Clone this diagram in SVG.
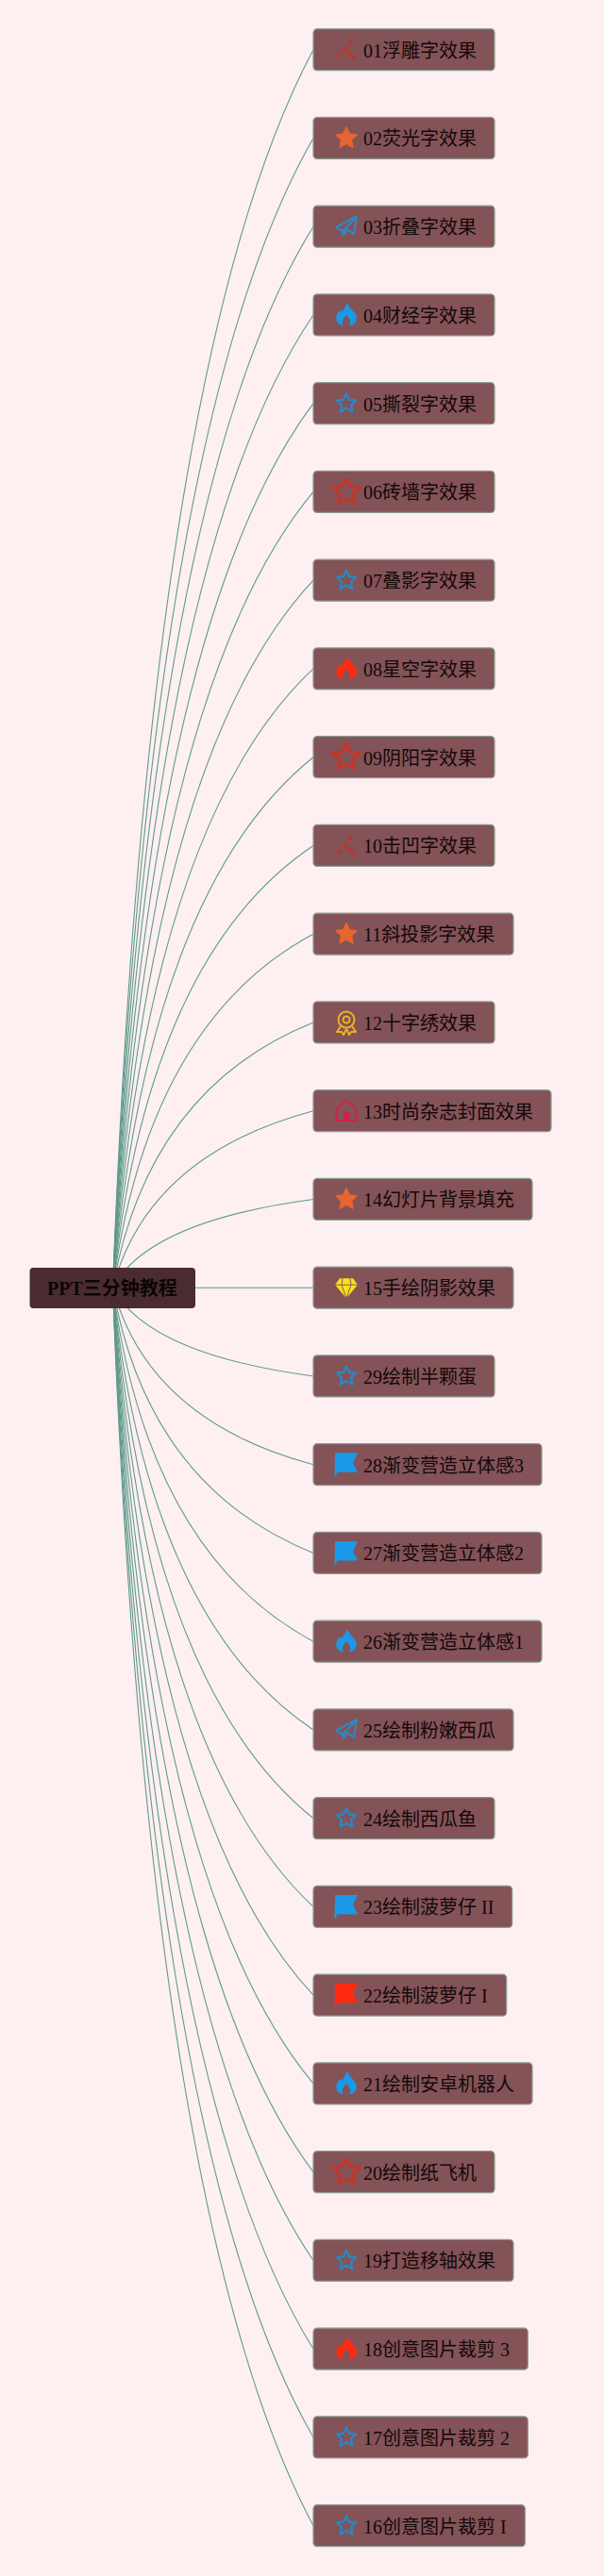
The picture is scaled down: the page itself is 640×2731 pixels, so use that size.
<svg xmlns="http://www.w3.org/2000/svg" width="640" height="2731" viewBox="0 0 640 2731">
<style>
.box{fill:#835358;stroke:#8b9a92;stroke-width:1.2}
.t{font-family:"Liberation Serif","Noto Sans CJK SC",serif;font-size:20px;fill:#140808}
.root{fill:#4a2c30;stroke:none}
.rt{font-family:"Liberation Serif","Noto Sans CJK SC",serif;font-size:20px;font-weight:bold;fill:#0c0505}
#links path{fill:none;stroke:#5f9a8c;stroke-width:1.1}
</style>
<defs>
<g id="magic" fill="#cf2f1f"><path d="M-4,-3 L9,10" stroke="#cf2f1f" stroke-width="2.6" fill="none"/><path d="M4.7,-10.5 L7.4,-8 L4.7,-5.3 L2,-8Z"/><path d="M-7.7,3.6 L-5,6.3 L-7.7,9 L-10.4,6.3Z"/></g>
<path id="sf" fill="#e8652f" stroke="#e8652f" stroke-width="1.5" stroke-linejoin="round" d="M0,-11.5 L3.3,-4.4 10.8,-3.5 5.4,1.7 6.8,9.6 0,5.7 -6.8,9.6 -5.4,1.7 -10.8,-3.5 -3.3,-4.4Z"/>
<path id="sb" fill="none" stroke="#2a87c4" stroke-width="2.3" stroke-linejoin="round" d="M0,-10.5 L3,-4 10,-3.2 5,1.6 6.3,8.9 0,5.3 -6.3,8.9 -5,1.6 -10,-3.2 -3,-4Z"/>
<path id="sr" fill="none" stroke="#d42f1f" stroke-width="2.4" stroke-linejoin="round" d="M0,-14.5 L4.2,-5.6 14,-4.4 6.9,2.2 8.7,12.3 0,7.3 -8.7,12.3 -6.9,2.2 -14,-4.4 -4.2,-5.6Z"/>
<path id="fb" fill="#1a9ae6" d="M1,-13 C3,-8 6,-6 9,-2 C13,3 10,11 3,11 C6,7 3,3 0,0 C-3,3 -6,7 -3,11 C-10,11 -13,3 -9,-2 C-8,-4 -6,-6 -5,-3 C-3,-6 -1,-9 1,-13Z"/>
<path id="fr" fill="#ff2a10" d="M1,-13 C3,-8 6,-6 9,-2 C13,3 10,11 3,11 C6,7 3,3 0,0 C-3,3 -6,7 -3,11 C-10,11 -13,3 -9,-2 C-8,-4 -6,-6 -5,-3 C-3,-6 -1,-9 1,-13Z"/>
<path id="plane" fill="none" stroke="#2a8ac8" stroke-width="2" stroke-linejoin="round" d="M11,-11 L-11,1 L-4,5 L11,-11 L8,8 L1,3 L-3,9 L-4,5"/>
<path id="flagb" fill="#1a9ae6" d="M-12,-12.5 H12 L7,-2 L12,8 H-10 L-11,12.5 H-12.5Z"/>
<path id="flagr" fill="#ff2a10" d="M-12,-12.5 H12 L7,-2 L12,8 H-10 L-11,12.5 H-12.5Z"/>
<g id="medal" fill="none" stroke="#f0b020" stroke-width="2"><circle cx="0" cy="-3" r="8.5"/><circle cx="0" cy="-3" r="3.5"/><path d="M-6,4 L-10,10 -5,10 -3,13 0,7 3,13 5,10 10,10 6,4" stroke-linejoin="round"/></g>
<g id="home"><path d="M0,-11 L10.5,-2 V10 H-10.5 V-2Z" fill="none" stroke="#d02050" stroke-width="2" stroke-linejoin="round"/><rect x="-3" y="1" width="6" height="9" fill="#d02050"/></g>
<g id="gem"><path d="M-7,-10 H7 L12,-3 L0,11 L-12,-3Z" fill="#f8e020"/><path d="M-12,-3 H12 M-4,-10 L-5,-3 L0,11 L5,-3 L4,-10" fill="none" stroke="#8a5a50" stroke-width="1"/></g>
</defs>
<rect width="640" height="2731" fill="#fef0f1"/>
<g id="links">
<path d="M119.5,1365.2 Q157,380.8 332,52.7"/>
<path d="M119.5,1365.2 Q157,451.1 332,146.45"/>
<path d="M119.5,1365.2 Q157,521.4 332,240.2"/>
<path d="M119.5,1365.2 Q157,591.7 332,333.95"/>
<path d="M119.5,1365.2 Q157,662 332,427.7"/>
<path d="M119.5,1365.2 Q157,732.4 332,521.45"/>
<path d="M119.5,1365.2 Q157,802.7 332,615.2"/>
<path d="M119.5,1365.2 Q157,873 332,708.95"/>
<path d="M119.5,1365.2 Q157,943.3 332,802.7"/>
<path d="M119.5,1365.2 Q157,1013.6 332,896.45"/>
<path d="M119.5,1365.2 Q157,1083.9 332,990.2"/>
<path d="M119.5,1365.2 Q157,1154.3 332,1083.95"/>
<path d="M119.5,1365.2 Q157,1224.6 332,1177.7"/>
<path d="M119.5,1365.2 Q157,1294.9 332,1271.45"/>
<path d="M119.5,1365.2 L332,1365.2"/>
<path d="M119.5,1365.2 Q157,1435.5 332,1458.95"/>
<path d="M119.5,1365.2 Q157,1505.8 332,1552.7"/>
<path d="M119.5,1365.2 Q157,1576.1 332,1646.45"/>
<path d="M119.5,1365.2 Q157,1646.5 332,1740.2"/>
<path d="M119.5,1365.2 Q157,1716.8 332,1833.95"/>
<path d="M119.5,1365.2 Q157,1787.1 332,1927.7"/>
<path d="M119.5,1365.2 Q157,1857.4 332,2021.45"/>
<path d="M119.5,1365.2 Q157,1927.7 332,2115.2"/>
<path d="M119.5,1365.2 Q157,1998 332,2208.95"/>
<path d="M119.5,1365.2 Q157,2068.3 332,2302.7"/>
<path d="M119.5,1365.2 Q157,2138.7 332,2396.45"/>
<path d="M119.5,1365.2 Q157,2209 332,2490.2"/>
<path d="M119.5,1365.2 Q157,2279.3 332,2583.95"/>
<path d="M119.5,1365.2 Q157,2349.6 332,2677.7"/>
</g>
<g id="root"><rect class="root" x="31.5" y="1344" width="175.5" height="43" rx="4"/><text class="rt" x="50" y="1373">PPT三分钟教程</text></g>
<g id="n01" transform="translate(332 30.7)"><rect class="box" width="192" height="44" rx="4"/><use href="#magic" x="35" y="22"/><text class="t" x="53" y="30">01浮雕字效果</text></g>
<g id="n02" transform="translate(332 124.45)"><rect class="box" width="192" height="44" rx="4"/><use href="#sf" x="35" y="22"/><text class="t" x="53" y="30">02荧光字效果</text></g>
<g id="n03" transform="translate(332 218.2)"><rect class="box" width="192" height="44" rx="4"/><use href="#plane" x="35" y="22"/><text class="t" x="53" y="30">03折叠字效果</text></g>
<g id="n04" transform="translate(332 311.95)"><rect class="box" width="192" height="44" rx="4"/><use href="#fb" x="35" y="22"/><text class="t" x="53" y="30">04财经字效果</text></g>
<g id="n05" transform="translate(332 405.7)"><rect class="box" width="192" height="44" rx="4"/><use href="#sb" x="35" y="22"/><text class="t" x="53" y="30">05撕裂字效果</text></g>
<g id="n06" transform="translate(332 499.45)"><rect class="box" width="192" height="44" rx="4"/><use href="#sr" x="35" y="22"/><text class="t" x="53" y="30">06砖墙字效果</text></g>
<g id="n07" transform="translate(332 593.2)"><rect class="box" width="192" height="44" rx="4"/><use href="#sb" x="35" y="22"/><text class="t" x="53" y="30">07叠影字效果</text></g>
<g id="n08" transform="translate(332 686.95)"><rect class="box" width="192" height="44" rx="4"/><use href="#fr" x="35" y="22"/><text class="t" x="53" y="30">08星空字效果</text></g>
<g id="n09" transform="translate(332 780.7)"><rect class="box" width="192" height="44" rx="4"/><use href="#sr" x="35" y="22"/><text class="t" x="53" y="30">09阴阳字效果</text></g>
<g id="n10" transform="translate(332 874.45)"><rect class="box" width="192" height="44" rx="4"/><use href="#magic" x="35" y="22"/><text class="t" x="53" y="30">10击凹字效果</text></g>
<g id="n11" transform="translate(332 968.2)"><rect class="box" width="212" height="44" rx="4"/><use href="#sf" x="35" y="22"/><text class="t" x="53" y="30">11斜投影字效果</text></g>
<g id="n12" transform="translate(332 1061.95)"><rect class="box" width="192" height="44" rx="4"/><use href="#medal" x="35" y="22"/><text class="t" x="53" y="30">12十字绣效果</text></g>
<g id="n13" transform="translate(332 1155.7)"><rect class="box" width="252" height="44" rx="4"/><use href="#home" x="35" y="22"/><text class="t" x="53" y="30">13时尚杂志封面效果</text></g>
<g id="n14" transform="translate(332 1249.45)"><rect class="box" width="232" height="44" rx="4"/><use href="#sf" x="35" y="22"/><text class="t" x="53" y="30">14幻灯片背景填充</text></g>
<g id="n15" transform="translate(332 1343.2)"><rect class="box" width="212" height="44" rx="4"/><use href="#gem" x="35" y="22"/><text class="t" x="53" y="30">15手绘阴影效果</text></g>
<g id="n29" transform="translate(332 1436.95)"><rect class="box" width="192" height="44" rx="4"/><use href="#sb" x="35" y="22"/><text class="t" x="53" y="30">29绘制半颗蛋</text></g>
<g id="n28" transform="translate(332 1530.7)"><rect class="box" width="242" height="44" rx="4"/><use href="#flagb" x="35" y="22"/><text class="t" x="53" y="30">28渐变营造立体感3</text></g>
<g id="n27" transform="translate(332 1624.45)"><rect class="box" width="242" height="44" rx="4"/><use href="#flagb" x="35" y="22"/><text class="t" x="53" y="30">27渐变营造立体感2</text></g>
<g id="n26" transform="translate(332 1718.2)"><rect class="box" width="242" height="44" rx="4"/><use href="#fb" x="35" y="22"/><text class="t" x="53" y="30">26渐变营造立体感1</text></g>
<g id="n25" transform="translate(332 1811.95)"><rect class="box" width="212" height="44" rx="4"/><use href="#plane" x="35" y="22"/><text class="t" x="53" y="30">25绘制粉嫩西瓜</text></g>
<g id="n24" transform="translate(332 1905.7)"><rect class="box" width="192" height="44" rx="4"/><use href="#sb" x="35" y="22"/><text class="t" x="53" y="30">24绘制西瓜鱼</text></g>
<g id="n23" transform="translate(332 1999.45)"><rect class="box" width="210.7" height="44" rx="4"/><use href="#flagb" x="35" y="22"/><text class="t" x="53" y="30">23绘制菠萝仔 II</text></g>
<g id="n22" transform="translate(332 2093.2)"><rect class="box" width="204.7" height="44" rx="4"/><use href="#flagr" x="35" y="22"/><text class="t" x="53" y="30">22绘制菠萝仔 I</text></g>
<g id="n21" transform="translate(332 2186.95)"><rect class="box" width="232" height="44" rx="4"/><use href="#fb" x="35" y="22"/><text class="t" x="53" y="30">21绘制安卓机器人</text></g>
<g id="n20" transform="translate(332 2280.7)"><rect class="box" width="192" height="44" rx="4"/><use href="#sr" x="35" y="22"/><text class="t" x="53" y="30">20绘制纸飞机</text></g>
<g id="n19" transform="translate(332 2374.45)"><rect class="box" width="212" height="44" rx="4"/><use href="#sb" x="35" y="22"/><text class="t" x="53" y="30">19打造移轴效果</text></g>
<g id="n18" transform="translate(332 2468.2)"><rect class="box" width="227.3" height="44" rx="4"/><use href="#fr" x="35" y="22"/><text class="t" x="53" y="30">18创意图片裁剪 3</text></g>
<g id="n17" transform="translate(332 2561.95)"><rect class="box" width="227.3" height="44" rx="4"/><use href="#sb" x="35" y="22"/><text class="t" x="53" y="30">17创意图片裁剪 2</text></g>
<g id="n16" transform="translate(332 2655.7)"><rect class="box" width="224.3" height="44" rx="4"/><use href="#sb" x="35" y="22"/><text class="t" x="53" y="30">16创意图片裁剪 I</text></g>
</svg>
